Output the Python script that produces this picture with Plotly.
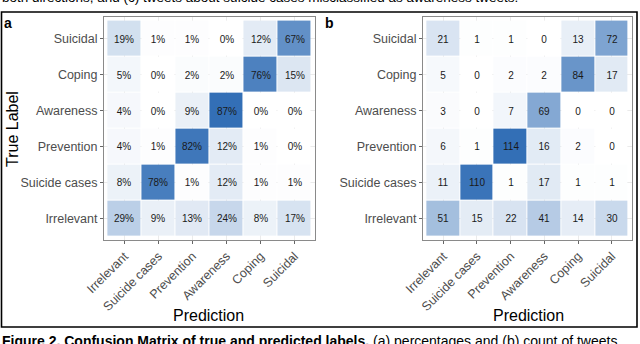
import plotly.graph_objects as go

# categories
pred_labels = ["Irrelevant", "Suicide cases", "Prevention", "Awareness", "Coping", "Suicidal"]
true_labels = ["Suicidal", "Coping", "Awareness", "Prevention", "Suicide cases", "Irrelevant"]  # top to bottom

# (a) percentages, rows = true label (top to bottom), cols = prediction
pct = [
    [19, 1, 1, 0, 12, 67],
    [5, 0, 2, 2, 76, 15],
    [4, 0, 9, 87, 0, 0],
    [4, 1, 82, 12, 1, 0],
    [8, 78, 1, 12, 1, 1],
    [29, 9, 13, 24, 8, 17],
]

# (b) counts
cnt = [
    [21, 1, 1, 0, 13, 72],
    [5, 0, 2, 2, 84, 17],
    [3, 0, 7, 69, 0, 0],
    [6, 1, 114, 16, 2, 0],
    [11, 110, 1, 17, 1, 1],
    [51, 15, 22, 41, 14, 30],
]

W, H = 640, 344
FONT = "Liberation Sans, Arial, sans-serif"
BLUE = "#336fb6"


def px(x):
    return x / W


def py(y):
    return 1 - y / H


fig = go.Figure()

for i, (z, fmt) in enumerate([(pct, "{}%"), (cnt, "{}")]):
    sfx = "" if i == 0 else "2"
    fig.add_trace(go.Heatmap(
        z=z, x=pred_labels, y=true_labels,
        text=[[fmt.format(v) for v in row] for row in z],
        texttemplate="%{text}",
        textfont=dict(size=10, color="#1a1a1a", family=FONT),
        colorscale=[[0, "#ffffff"], [1, BLUE]],
        zmin=0, zmax=max(max(r) for r in z),
        showscale=False, xgap=1, ygap=1,
        xaxis="x" + sfx, yaxis="y" + sfx,
    ))

axis_common = dict(
    type="category",
    range=[-0.6, 5.6],
    automargin=False,
    showgrid=True, gridcolor="#ebebeb", gridwidth=1,
    showline=True, mirror=True, linecolor="#8a8a8a", linewidth=1,
    ticks="outside", ticklen=3, tickcolor="#666", tickwidth=1,
    tickfont=dict(size=12.5, color="#4d4d4d", family=FONT),
    zeroline=False, fixedrange=True,
)

ydom = [py(240), py(17)]
fig.update_layout(
    width=W, height=H,
    margin=dict(l=0, r=0, t=0, b=0, autoexpand=False),
    paper_bgcolor="white", plot_bgcolor="white",
    font=dict(family=FONT),
    xaxis=dict(axis_common, domain=[px(104), px(315)], anchor="y",
               categoryarray=pred_labels, categoryorder="array", tickangle=-45),
    yaxis=dict(axis_common, domain=ydom, anchor="x",
               categoryarray=true_labels[::-1], categoryorder="array"),
    xaxis2=dict(axis_common, domain=[px(423), px(632)], anchor="y2",
                categoryarray=pred_labels, categoryorder="array", tickangle=-45),
    yaxis2=dict(axis_common, domain=ydom, anchor="x2",
                categoryarray=true_labels[::-1], categoryorder="array"),
)

# outer frame around the figure
fig.add_shape(type="rect", xref="paper", yref="paper",
              x0=px(1.5), x1=px(637), y0=py(327), y1=py(12),
              line=dict(color="black", width=1.6))

ann = [
    dict(x=px(8), y=py(23), text="<b>a</b>", font=dict(size=14, color="black")),
    dict(x=px(329), y=py(23), text="<b>b</b>", font=dict(size=14, color="black")),
    dict(x=px(12), y=py(129), text="True Label", textangle=-90,
         font=dict(size=16, color="black")),
    dict(x=px(208), y=py(315), text="Prediction", font=dict(size=16, color="black")),
    dict(x=px(528), y=py(315), text="Prediction", font=dict(size=16, color="black")),
]
for a in ann:
    fig.add_annotation(xref="paper", yref="paper", showarrow=False,
                       xanchor="center", yanchor="middle", **a)

# surrounding paper text (cut off at the edges, as in the source)
fig.add_annotation(xref="paper", yref="paper", x=0, y=py(-2), xanchor="left",
                   yanchor="middle", showarrow=False,
                   text="both directions, and (c) tweets about suicide cases misclassified as awareness tweets.",
                   font=dict(size=13.5, color="black"))
fig.add_annotation(xref="paper", yref="paper", x=0, y=py(341), xanchor="left",
                   yanchor="middle", showarrow=False,
                   text="<b>Figure 2. Confusion Matrix of true and predicted labels.</b> "
                        "(a) percentages and (b) count of tweets",
                   font=dict(size=14, color="black"))

fig.write_html("out.html", config={"displayModeBar": False},
               post_script="document.body.style.margin='0';")
